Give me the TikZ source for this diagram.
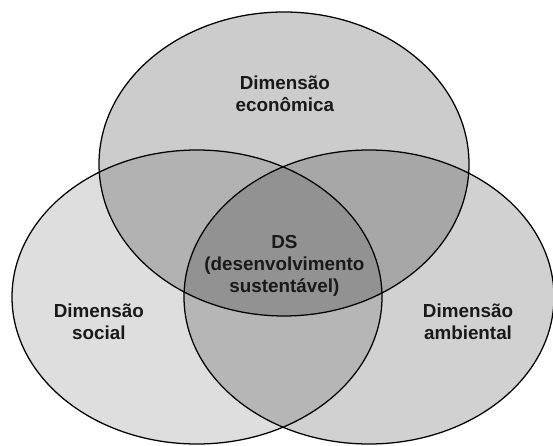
\documentclass[tikz,border=0pt]{standalone}
\usepackage{fontspec}
\setmainfont{Liberation Sans}

\begin{document}
\begin{tikzpicture}[
    dimensao/.style={draw=black, line width=0.9pt, fill=black},
    rotulo/.style={align=center, text=black!90, font=\fontsize{13.4}{15.6}\selectfont\bfseries}
]
    % Frame
    \useasboundingbox (0,0) rectangle (13.825,-11.15);
    % Dimensions
    \draw[dimensao, fill opacity=0.2] (7.10,-4.10) ellipse [x radius=4.625, y radius=3.80];
    \draw[dimensao, fill opacity=0.13] (4.925,-7.425) ellipse [x radius=4.625, y radius=3.675];
    \draw[dimensao, fill opacity=0.18] (9.225,-7.425) ellipse [x radius=4.625, y radius=3.675];
    % Labels
    \node[rotulo] (econ) at (7.12,-2.35) {Dimensão\\econômica};
    \node[rotulo] (ds) at (7.11,-6.65) {DS\\(desenvolvimento\\sustentável)};
    \node[rotulo] (social) at (2.47,-8.05) {Dimensão\\social};
    \node[rotulo] (ambiental) at (11.70,-8.05) {Dimensão\\ambiental};
\end{tikzpicture}
\end{document}
